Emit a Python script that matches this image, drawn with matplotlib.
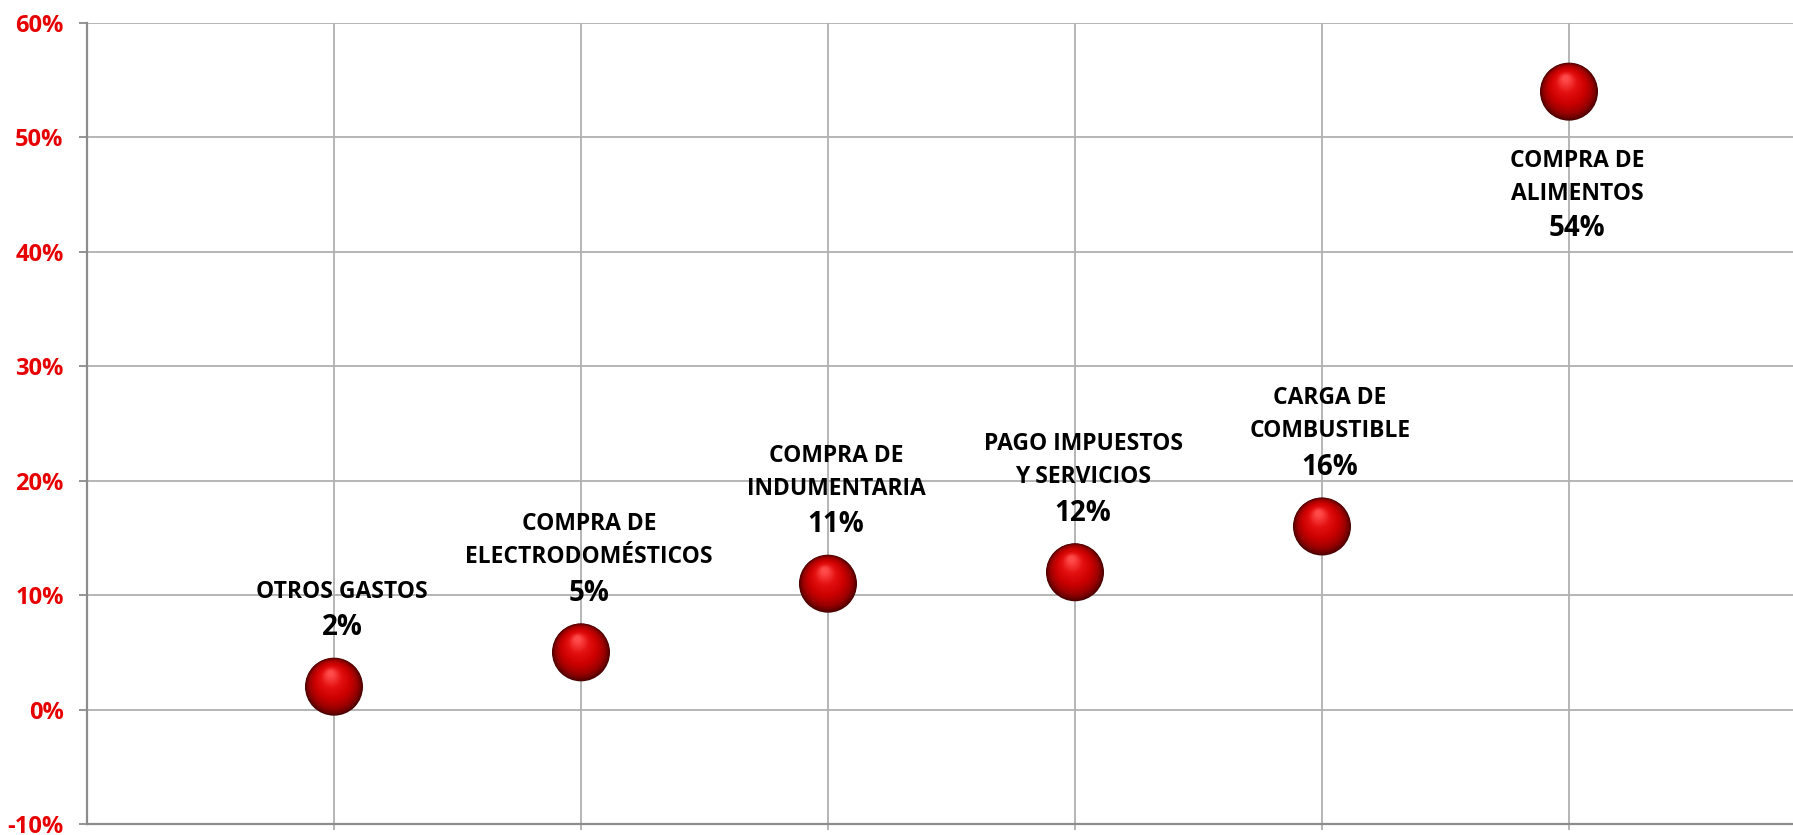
import numpy as np
import matplotlib.pyplot as plt
from matplotlib.colors import LinearSegmentedColormap
from matplotlib.transforms import offset_copy

# data
names = ['OTROS GASTOS', 'COMPRA DE\nELECTRODOMÉSTICOS', 'COMPRA DE\nINDUMENTARIA',
         'PAGO IMPUESTOS\nY SERVICIOS', 'CARGA DE\nCOMBUSTIBLE', 'COMPRA DE\nALIMENTOS']
values = [2, 5, 11, 12, 16, 54]
label_below = [False, False, False, False, False, True]
yticks = [-10, 0, 10, 20, 30, 40, 50, 60]

plt.rcParams['font.family'] = ['Open Sans', 'DejaVu Sans']

W, H = 1793, 835
fig = plt.figure(figsize=(W / 100, H / 100), dpi=100)
ax = fig.add_axes([87 / W, 11 / H, 1 - 87 / W, (824 - 23) / H])

xs = np.arange(1, len(values) + 1)

# gridlines
ax.set_xlim(0, (W - 87) / 247)
ax.set_ylim(-10, 60)
ax.set_yticks(yticks)
ax.set_yticklabels([f'{v}%' for v in yticks], color='#E60000', fontweight='bold', fontsize=17)
ax.set_xticks(xs)
ax.set_xticklabels([])
ax.grid(True, color='#B0B0B0', linewidth=1.3)
ax.set_axisbelow(True)
for s in ['top', 'right']:
    ax.spines[s].set_visible(False)
for s in ['left', 'bottom']:
    ax.spines[s].set_color('#8C8C8C')
    ax.spines[s].set_linewidth(1.6)
ax.tick_params(axis='y', length=5.8, width=1.3, color='#8C8C8C', pad=11)
ax.tick_params(axis='x', length=4, width=1.3, color='#B0B0B0')

# shaded spheres
R = 29  # radius in pixels
cmap = LinearSegmentedColormap.from_list('sph', ['#4a0000', '#9a0000', '#cc0000', '#e31010', '#ff4a4a'])
n_layers = 40
hx, hy = -0.12 * R, 0.45 * R
for i in range(n_layers):
    t = i / (n_layers - 1)
    r = R * (1 - 0.9 * t)
    tr = offset_copy(ax.transData, fig=fig, x=hx * t, y=hy * t, units='dots')
    d_pt = 2 * r * 72 / 100
    ax.scatter(xs, values, s=d_pt ** 2, color=cmap(t ** 0.8), edgecolors='none',
               transform=tr, zorder=3 + t, clip_on=False)

# labels, one line at a time
txt = dict(textcoords='offset pixels', ha='center', va='center', fontweight='bold')
for x, v, name, below in zip(xs, values, names, label_below):
    lines = name.split('\n')
    if below:
        for k, line in enumerate(lines):
            ax.annotate(line, (x, v), xytext=(8, -69 - 33 * k), fontsize=16.5, **txt)
        ax.annotate(f'{v}%', (x, v), xytext=(8, -137), fontsize=20, **txt)
    else:
        for k, line in enumerate(reversed(lines)):
            ax.annotate(line, (x, v), xytext=(8, 95 + 33 * k), fontsize=16.5, **txt)
        ax.annotate(f'{v}%', (x, v), xytext=(8, 59), fontsize=20, **txt)

fig.savefig('out.png', dpi=100)
